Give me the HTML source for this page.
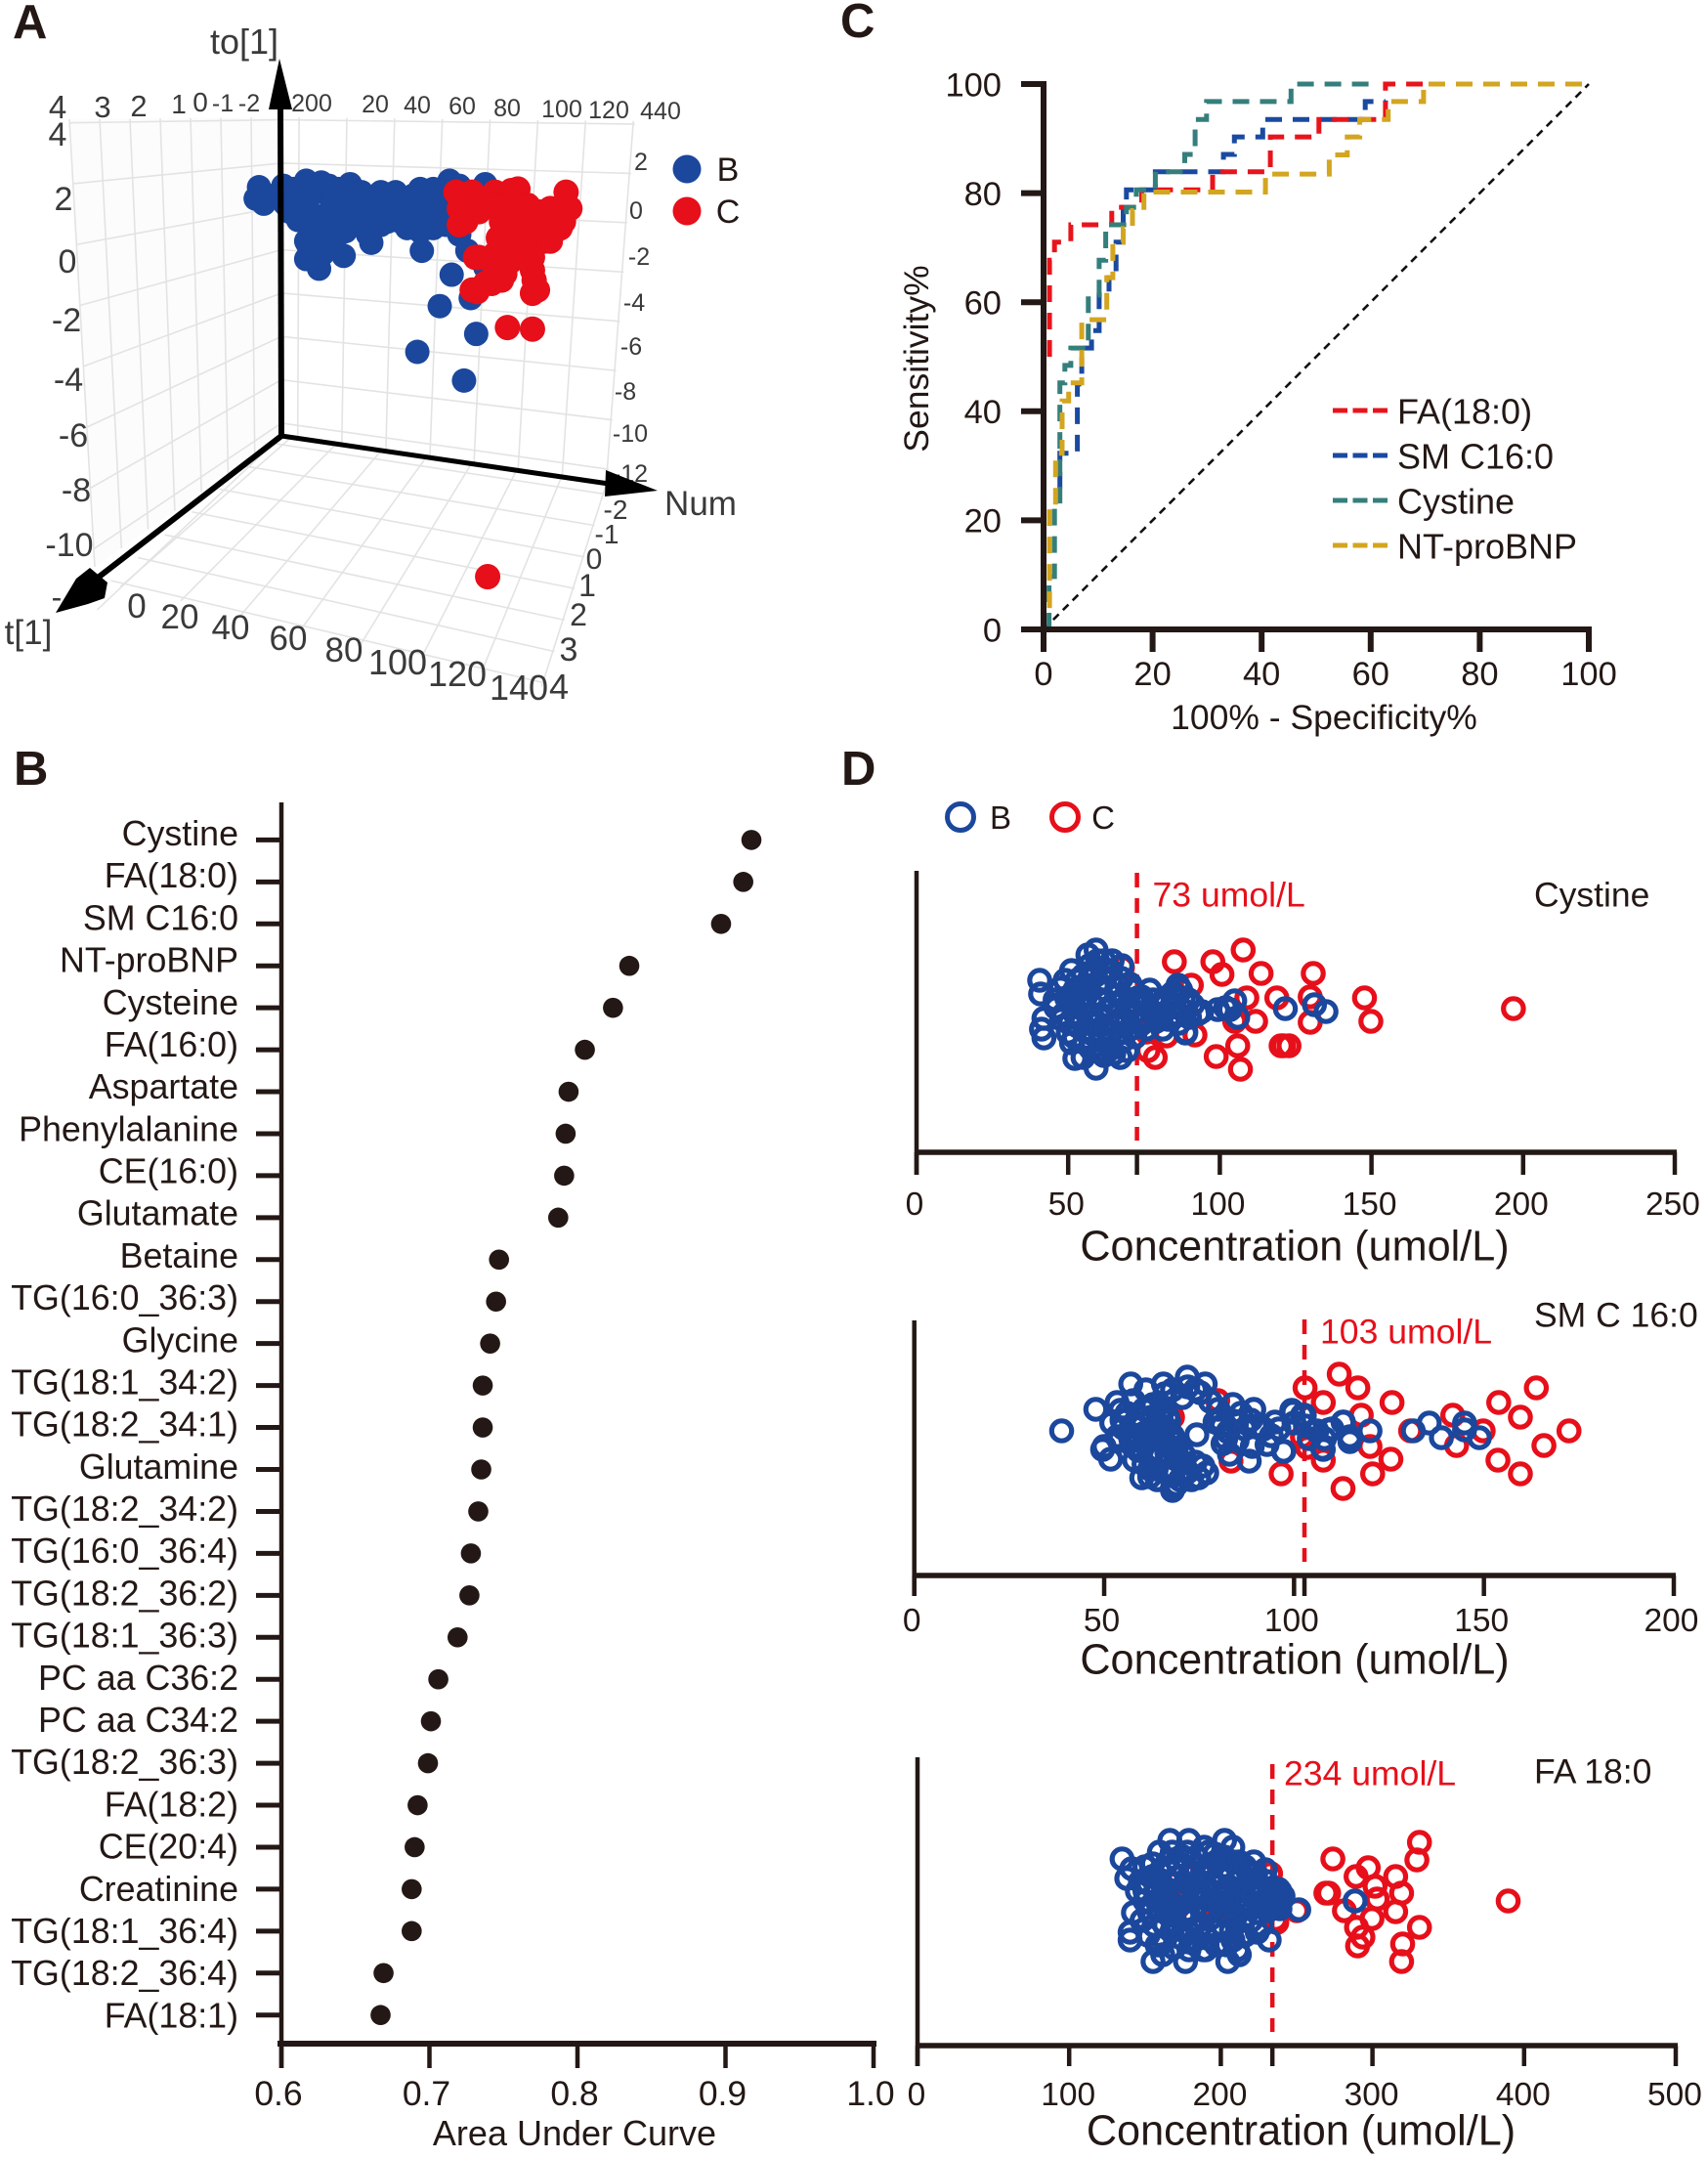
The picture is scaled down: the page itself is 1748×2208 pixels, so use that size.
<!DOCTYPE html>
<html lang="en">
<head>
<meta charset="utf-8">
<title>Figure panels A-D</title>
<style>
html,body{margin:0;padding:0;background:#fff;}
#fig{display:block;width:1748px;height:2208px;font-family:"Liberation Sans",Arial,sans-serif;fill:#231815;}
.p3d{fill:#3a3a3a;dominant-baseline:auto;}
</style>
</head>
<body>
<svg id="fig" xmlns="http://www.w3.org/2000/svg" width="1748" height="2208" viewBox="0 0 1748 2208">
  <rect x="0" y="0" width="1748" height="2208" fill="#fff"/>
  <text x="13" y="39" font-size="49" font-weight="bold">A</text>
  <text x="860" y="38" font-size="49" font-weight="bold">C</text>
  <text x="14" y="803" font-size="49" font-weight="bold">B</text>
  <text x="861" y="803" font-size="49" font-weight="bold">D</text>

  <g id="panelA"></g>
  <g class="p3d" text-anchor="middle">
    <text x="250" y="55" font-size="36">to[1]</text>
    <text x="717" y="527" font-size="35">Num</text>
    <text x="29" y="659" font-size="35">t[1]</text>
    <text x="59" y="121" font-size="33">4</text>
    <text x="105" y="120" font-size="31">3</text>
    <text x="142" y="119" font-size="31">2</text>
    <text x="183" y="116" font-size="28">1</text>
    <text x="205" y="114" font-size="28">0</text>
    <text x="228" y="114" font-size="25">-1</text>
    <text x="255" y="114" font-size="25">-2</text>
    <text x="319" y="114" font-size="25">200</text>
    <text x="384" y="115" font-size="25">20</text>
    <text x="427" y="116" font-size="25">40</text>
    <text x="473" y="117" font-size="25">60</text>
    <text x="519" y="119" font-size="25">80</text>
    <text x="575" y="120" font-size="25">100</text>
    <text x="623" y="121" font-size="25">120</text>
    <text x="676" y="122" font-size="25">440</text>
    <text x="59" y="149" font-size="34">4</text>
    <text x="65" y="215" font-size="34">2</text>
    <text x="69" y="279" font-size="34">0</text>
    <text x="68" y="339" font-size="34">-2</text>
    <text x="70" y="400" font-size="34">-4</text>
    <text x="75" y="457" font-size="34">-6</text>
    <text x="78" y="513" font-size="34">-8</text>
    <text x="71" y="569" font-size="34">-10</text>
    <text x="656" y="174" font-size="25">2</text>
    <text x="651" y="224" font-size="25">0</text>
    <text x="654" y="271" font-size="25">-2</text>
    <text x="649" y="318" font-size="25">-4</text>
    <text x="646" y="363" font-size="25">-6</text>
    <text x="640" y="409" font-size="25">-8</text>
    <text x="645" y="452" font-size="25">-10</text>
    <text x="630" y="531" font-size="28">-2</text>
    <text x="621" y="556" font-size="28">-1</text>
    <text x="608" y="582" font-size="30">0</text>
    <text x="601" y="610" font-size="32">1</text>
    <text x="592" y="640" font-size="32">2</text>
    <text x="582" y="676" font-size="34">3</text>
    <text x="572" y="715" font-size="36">4</text>
    <text x="140" y="632" font-size="35">0</text>
    <text x="184" y="643" font-size="35">20</text>
    <text x="236" y="654" font-size="35">40</text>
    <text x="295" y="665" font-size="35">60</text>
    <text x="352" y="677" font-size="35">80</text>
    <text x="407" y="690" font-size="36">100</text>
    <text x="468" y="702" font-size="36">120</text>
    <text x="531" y="716" font-size="36">140</text>
  </g>
  <g>
    <circle cx="703" cy="173" r="14.5" fill="#1b479c"/>
    <circle cx="703" cy="216" r="14.5" fill="#e60f1a"/>
    <text x="745" y="185" font-size="34" text-anchor="middle">B</text>
    <text x="745" y="228" font-size="34" text-anchor="middle">C</text>
  </g>

  <g id="panelC"></g>
  <text x="1355" y="746" font-size="35.5" text-anchor="middle">100% - Specificity%</text>
  <text transform="translate(950,367) rotate(-90)" font-size="35.5" text-anchor="middle">Sensitivity%</text>

  <g id="panelB"></g>
  <text x="588" y="2195" font-size="36" text-anchor="middle">Area Under Curve</text>

  <g>
    <circle cx="983" cy="836" r="13.5" fill="none" stroke="#1b479c" stroke-width="5"/>
    <text x="1024" y="848" font-size="33" text-anchor="middle">B</text>
    <circle cx="1090" cy="836" r="13.5" fill="none" stroke="#e60f1a" stroke-width="5"/>
    <text x="1129" y="848" font-size="33" text-anchor="middle">C</text>
  </g>
  <g id="panelD1"></g>
  <g id="panelD2"></g>
  <g id="panelD3"></g>
</svg>

<script>
/* ---------- Panel A data ---------- */
var aBlueNum=[2.9,1.5,4.9,13.1,13.8,22.7,19.9,19.3,26.8,32.2,33.6,41.1,39.1,30.9,22.7,42.5,47.3,52.7,60.2,58.2,70.5,66.4,82.8,78.7,76,97.8,86.9,73.2,65,56.8,47.3,39.1,50,38.4,23.4,28.1,29.5,22.7,28.1,35,71.2,90.3,83.7,78.7,91.7,97.8,94,69.3,88.9,48.6,15.8,84.2,43.2,67.7,76,54,29,6.3,17.2,17.2,24,24,28.1,35,36.3,36.3,43.2,50,54,62.3,62.3,70.5,70.5,76,81.4,81.4,76,45.9,25.4,33.6,22.7,29.5,86.9];
var aBlueTo=[1,0.5,0.28,1.06,0.28,1.28,0.64,-0.43,0.78,1.06,0.35,1.13,0.35,-0.21,-0.5,-0.07,0.35,0.35,0.78,-0.07,0.92,-0.07,1.28,0.64,-0.07,1.13,-1.06,-0.78,-0.78,-0.5,-0.5,-0.92,-1.42,-1.99,-1.49,-1.35,-1.91,-2.13,-2.55,-1.21,-1.77,-1.77,-2.81,-4.18,-3.83,-2.48,-5.39,-6.17,-7.42,-1.06,-0.07,-0.07,0.78,0.64,0.92,0.78,1.2,0.64,0.92,0.07,0.64,-0.07,-0.64,0.78,-0.35,0.92,-0.64,-0.21,-0.64,0.35,-0.5,0.07,-0.92,0.5,0.35,-0.64,-0.78,0.78,-2.06,-1.63,-1.35,-1.06,1.06];
var aRedNum=[88.9,89.6,108.7,97.8,106,131.7,130.6,119.7,129.2,118.3,108.7,106,93.7,101.9,104.6,94.4,100.5,117.6,117.6,118.3,107.1,117.6,125.1,111.5,111.5,122.4,95.1,98.8,85.5,92.3,101.9,111.5,86.9,86.9,104.6,115.6,125.1,133.3,130.6,119.7,111.5,103.3,108.7,101.9,97.8,92.3,106,117.6,114.2,95.1,119.7,125.1,103.3,120.9];
var aRedTo=[0.35,-0.5,0.85,0.35,0.35,0.78,0.07,-0.07,-0.78,-1.21,-0.92,-1.77,-2.06,-2.62,-3.05,-3.55,-3.19,-2.62,-3.62,-3.05,-5.11,-5.18,-0.78,-0.35,-1.63,-1.35,-0.07,-15.96,0.78,0.78,0.78,0.92,0.07,-0.64,-0.5,0.21,0.07,0.07,-0.5,-0.92,-1.06,-1.21,-2.2,-1.91,-3.19,-3.48,-2.77,-2.06,-1.49,-2.06,-3.48,-1.35,0.21,-0.5];

/* ---------- Panel C data ---------- */
var rocXTicks=[0,20,40,60,80,100];
var rocYTicks=[0,20,40,60,80,100];
var faFpr=[1.1,1.1,2,2,5,5,12.5,12.5,18,18,31,31,41.6,41.6,50.5,50.5,62.7,62.7,70];
var faSens=[50,67.7,67.7,71,71,74.2,74.2,77.4,77.4,80.6,80.6,83.9,83.9,90.3,90.3,93.5,93.5,100,100];
var smFpr=[3,3,6.2,6.2,7,7,8.8,8.8,10.2,10.2,12,12,13.3,13.3,14.6,14.6,15.2,15.2,20.5,20.5,33,33,35,35,40.2,40.2,59,59,62.7,62.7];
var smSens=[25.8,32.3,32.3,45,45,51.6,51.6,54.8,54.8,61.3,61.3,64.5,64.5,71,71,77.4,77.4,80.6,80.6,83.9,83.9,87.1,87.1,90.3,90.3,93.5,93.5,96.8,96.8,97];
var cysFpr=[1,1,2,2,3,3,3.9,3.9,5,5,8.2,8.2,10.2,10.2,11.4,11.4,15.2,15.2,17,17,20.5,20.5,25.9,25.9,27.8,27.8,29.9,29.9,45.4,45.4,60];
var cysSens=[0,9.7,9.7,22.6,22.6,45.2,45.2,48.4,48.4,51.6,51.6,61.3,61.3,67.7,67.7,74.2,74.2,77.4,77.4,80.6,80.6,83.9,83.9,87.1,87.1,93.5,93.5,96.8,96.8,100,100];
var bnpFpr=[0,0,1.1,1.1,2.2,2.2,3.4,3.4,4.6,4.6,7,7,11.6,11.6,12.7,12.7,14.6,14.6,16.3,16.3,18.4,18.4,40.7,40.7,52.4,52.4,55.7,55.7,58,58,63.2,63.2,69.7,69.7,100];
var bnpSens=[0,3.2,3.2,22.6,22.6,32.3,32.3,41.9,41.9,45.2,45.2,56.8,56.8,64.5,64.5,71,71,73.5,73.5,76.8,76.8,80.2,80.2,83.5,83.5,87,87,90.3,90.3,93.5,93.5,96.8,96.8,100,100];
var rocSeriesNames=['FA(18:0)','SM C16:0','Cystine','NT-proBNP'];

/* ---------- Panel B data ---------- */
var aucCategories=['Cystine','FA(18:0)','SM C16:0','NT-proBNP','Cysteine','FA(16:0)','Aspartate','Phenylalanine','CE(16:0)','Glutamate','Betaine','TG(16:0_36:3)','Glycine','TG(18:1_34:2)','TG(18:2_34:1)','Glutamine','TG(18:2_34:2)','TG(16:0_36:4)','TG(18:2_36:2)','TG(18:1_36:3)','PC aa C36:2','PC aa C34:2','TG(18:2_36:3)','FA(18:2)','CE(20:4)','Creatinine','TG(18:1_36:4)','TG(18:2_36:4)','FA(18:1)'];
var aucValues=[0.9175,0.912,0.897,0.835,0.824,0.805,0.794,0.792,0.791,0.787,0.747,0.745,0.741,0.736,0.736,0.735,0.733,0.728,0.727,0.719,0.706,0.701,0.699,0.692,0.690,0.688,0.688,0.669,0.667];
var aucTicks=[0.6,0.7,0.8,0.9,1.0];
var aucTickLabels=['0.6','0.7','0.8','0.9','1.0'];

/* ---------- Panel D data: value = concentration, spread = swarm offset (arbitrary units) ---------- */
var cystineTicks=[0,50,100,150,200,250];
var cystineCut=73;
var cystineRedValues=[85,97.7,100.7,107.7,113.6,130.8,90.6,108.9,118.8,129.8,147.7,196.8,149.8,129.8,111.8,104.9,105.9,121,122.8,120.2,98.8,106.8,78.7,76.3,82.4,91.8,75.8,67.9];
var cystineRedSpread=[0.49,0.49,0.36,0.61,0.37,0.37,0.25,0.12,0.12,0.13,0.12,0.01,-0.12,-0.13,-0.12,-0.12,-0.37,-0.37,-0.37,-0.37,-0.48,-0.61,-0.49,-0.42,-0.27,-0.26,-0.23,0.43];
var cystineBlueValues=[40.6,40.9,42,41.2,42,51.1,49,56.5,59.2,59.7,67.7,64,76.9,74.2,86.5,85.5,93,88.7,81.2,75.8,52.2,54.9,59.2,67.2,69.4,51.1,45.7,50,54.3,57.5,62.9,66.1,70.4,72.6,69.4,65.1,55.4,52.2,47.9,53.2,50,57.5,60.8,64,67.2,70.4,57.5,61.8,64,55.4,59.7,67.2,73.6,77.9,81.2,84.4,87.6,89.7,82.2,86.5,65.1,54.3,59.7,61.8,58.6,52.2,135,131.2,121.6,105.9,104.9,101.9,99.3,103.3,94,86.2,84.5,87.1,88.8,
46,47.5,48.5,49.5,50.5,51.5,52,53,53.5,54,55,55.5,56,56.5,57,57.5,58,58.5,59,60,60.5,61,62,62.5,63,63.5,64.5,65,66,66.5,67.5,68,68.5,69,70,71,71.5,72,73,74,75,76,78,79,80,82,83,85,86,88,90,91];
var cystineBlueSpread=[0.3,0.16,-0.09,-0.2,-0.29,0.4,0.3,0.56,0.61,0.5,0.45,0.4,0.2,0.13,0.23,0.13,-0.04,-0.24,-0.2,-0.2,-0.5,-0.49,-0.6,-0.49,-0.42,-0.34,0.1,0.1,0.23,0.33,0.4,0.26,0.26,0.06,0.03,0.06,0.03,-0.04,-0.1,-0.17,-0.24,-0.24,-0.3,-0.24,-0.24,-0.2,-0.4,-0.47,-0.4,-0.34,-0.14,-0.1,-0.1,-0.04,-0.04,-0.07,0,0.1,0.06,-0.14,-0.14,0.13,0.26,0.5,0.4,0.2,-0.02,0.05,0.01,-0.08,0.09,0.02,0,0,-0.02,0.25,0.17,0.2,-0.23,
0.02,0.22,-0.05,0.12,-0.14,0.05,-0.28,0.3,0.08,-0.1,0.35,-0.22,0.15,-0.05,0.45,-0.32,0.05,-0.15,0.35,-0.42,-0.05,0.1,0.3,-0.2,-0.35,0.02,0.5,-0.45,0.15,-0.05,0.32,-0.32,0.12,-0.15,0.05,0.2,-0.05,-0.28,0.12,-0.15,0.05,-0.08,0.1,-0.12,0.05,0.12,-0.1,0.03,-0.05,0.12,-0.08,0.05];

var smTicks=[0,50,100,150,200];
var smCut=103;
var smRedValues=[111.9,116.8,102.9,107.7,125.8,117.7,163.8,153.9,159.6,141.8,172.4,149.8,130.7,165.8,142.8,120,125.5,107.7,153.7,159.6,120.7,96.6,112.9,83.4,79.9,68,103.5,102.2];
var smRedSpread=[0.58,0.44,0.44,0.29,0.29,0.16,0.44,0.29,0.14,0.16,0,0,0,-0.15,-0.15,-0.16,-0.29,-0.3,-0.3,-0.44,-0.44,-0.44,-0.59,-0.31,0.31,0.14,-0.17,-0.06];
var smBlueValues=[47.8,57,53.4,61,65.6,71.9,76.6,75.3,70.6,57.7,54.7,53.4,49.6,51.7,50,57.7,59.9,59.9,63.7,68,68,74.9,77,70.6,64.6,74.4,61.6,63.7,65.4,62.9,67.2,64.6,67.2,68.9,60.3,59.4,62.9,56.9,54.3,62,71.4,80,80.4,83.9,79.2,82.6,81.3,83,88.2,89,89.4,88.6,92.9,95,97.2,99.7,102.7,104,107.5,110,113,114.7,114.7,38.8,120,114.7,131.4,135.6,138.8,144.9,144.9,148.8,112.9,109.1,107.7,97.3,102.2,99.4,63.2,65.9,64.6,63.9,67.4,66.7,61.8,68.8,
52,54,55,56,57,58,59,60,60.5,61,62,62.5,63,64,64.5,65,65.5,66,66.5,67,68,69,58,60.5,62,64,66,68,70,72,74,76,71,73,69,72,68,74,66,78,81,82,84,85,86,87,90,92,94,96,100,103,106,108];
var smBlueSpread=[0.22,0.48,0.29,0.42,0.48,0.55,0.48,0.39,0.34,0.31,0.11,-0.06,-0.19,-0.29,-0.16,-0.16,-0.19,-0.48,-0.39,-0.61,-0.58,-0.48,-0.43,-0.33,-0.26,-0.04,0.21,0.07,0.21,-0.06,-0.03,-0.09,-0.16,-0.29,-0.03,0.14,0.27,-0.03,0.21,-0.39,-0.39,0.22,0.11,0.27,0.09,-0.01,-0.13,-0.24,-0.31,-0.16,0.22,0.11,-0.14,0.09,-0.21,0.19,0.16,-0.08,-0.18,0.02,0.09,-0.08,-0.11,0,0,-0.06,0,0.08,-0.07,0.08,0.01,-0.07,0.09,0.01,-0.19,-0.21,0.16,0.21,0.04,0.04,0.18,-0.09,-0.02,0.14,-0.09,-0.12,
0.08,-0.1,0.03,0.18,-0.08,0.08,-0.2,0.08,0.22,-0.12,0.02,0.14,-0.2,0.08,-0.02,0.14,-0.12,0.03,-0.22,0.1,-0.05,-0.18,-0.3,-0.34,-0.47,-0.5,-0.42,-0.46,-0.5,-0.42,-0.32,-0.36,-0.25,-0.5,-0.55,0.45,0.42,0.42,0.38,0.3,0.05,-0.08,0.1,-0.1,0.18,0.02,0.05,0.02,-0.05,0.02,0.08,0.05,0,-0.08];

var faTicks=[0,100,200,300,400,500];
var faCut=234;
var faRedValues=[331,329.3,273.9,297.2,289.2,315.3,301.7,319.2,269.3,271.1,303.1,281.5,315.3,389.5,299.7,289.5,331,293.7,290.2,319.9,319.2,250.2,236.2,232.8,170.3,178.9,171.4,198.2,217.5,236.9];
var faRedSpread=[0.6,0.42,0.43,0.34,0.25,0.25,0.15,0.08,0.08,0.08,0.02,-0.1,-0.11,0,-0.18,-0.27,-0.27,-0.37,-0.46,-0.44,-0.62,-0.1,-0.19,0.28,0.18,0.25,-0.07,-0.1,-0.03,-0.22];
var faBlueValues=[134.9,141.3,138,159.5,166.4,178.9,202.5,207.9,221.8,229.3,239,236.8,251.4,231.9,224,212.2,204.6,176.7,155.3,161.7,140.2,140.2,142.4,188.5,150,155,160,165,165,170,172,175,178,185,188,190,192,195,198,200,203,205,208,210,213,215,218,222,225,228,232,235,237,240,148,152,160,168,175,183,190,195,150,158,182,197,212,216,205,180,145,170,163,187,288.5,
147,150,152,153,155,156,157,158,160,161,162,163,165,166,167,168,169,170,172,173,174,176,177,178,179,180,181,183,184,185,186,188,189,190,191,192,193,194,196,197,198,199,200,201,202,203,204,205,206,207,208,209,210,211,212,213,214,215,216,217,219,220,221,223,224,226,227,228,230,231,233,234,236,238,239,241];
var faBlueSpread=[0.43,0.33,0.23,0.5,0.62,0.62,0.62,0.55,0.4,0.32,0.1,0,-0.09,-0.4,-0.32,-0.55,-0.62,-0.62,-0.62,-0.55,-0.4,-0.32,-0.12,-0.5,0.1,0.25,-0.1,0.2,0.4,-0.05,0.25,0.45,-0.3,0.1,0.3,-0.1,0.5,0.2,-0.3,0.05,0.35,-0.15,-0.4,0.2,0.05,-0.2,0.3,0.15,-0.05,0.1,0.05,0.12,-0.05,0.02,-0.2,-0.35,-0.45,-0.3,-0.15,-0.4,-0.5,-0.1,0.35,0,0.35,0.4,0.4,-0.35,0.15,0.15,0.1,0.1,-0.25,-0.25,0,
0.2,0,0.18,-0.12,0.38,-0.25,0.1,-0.45,0.3,-0.02,0.15,-0.4,0.03,-0.15,0.3,0.5,-0.48,-0.22,0.38,0.02,-0.38,0.12,-0.1,0.5,-0.5,0.3,-0.2,0.02,0.45,-0.3,0.2,-0.08,0.55,0.1,-0.38,0.35,-0.18,0.02,0.48,-0.45,0.15,-0.05,0.28,-0.25,0.45,0.1,-0.45,-0.02,0.25,-0.3,0.4,0.08,-0.15,-0.5,0.28,-0.08,-0.35,0.12,0.35,0,0.22,-0.2,0.05,0.28,-0.12,0.15,-0.25,0,0.2,-0.1,0.12,-0.03,0.06,0.12,-0.08,0.05];

/* ---------- helpers ---------- */
var SVGNS='http://www.w3.org/2000/svg';
var INK='#231815', BLUE='#1b479c', RED='#e60f1a';
function mk(tag,attrs,parent,txt){
  var el=document.createElementNS(SVGNS,tag);
  for(var k in attrs){el.setAttribute(k,attrs[k]);}
  if(txt!==undefined){el.textContent=txt;}
  parent.appendChild(el);
  return el;
}
function lerp(a,b,t){return a+(b-a)*t;}

/* ---------- Panel A ---------- */
(function(){
  var g=document.getElementById('panelA');
  var el;
  var wallGrid='#e3e3e3';
  el=mk('polygon',{points:'71,122 288,120 288,446 97,580',fill:'#fcfcfc'},g);
  
  
  function wallPt(c,u,v){
    return [lerp(lerp(c[0][0],c[1][0],u),lerp(c[3][0],c[2][0],u),v),
            lerp(lerp(c[0][1],c[1][1],u),lerp(c[3][1],c[2][1],u),v)];
  }
  var leftWall=[[71,122],[288,120],[288,446],[97,580]];
  var rightWall=[[288,120],[650,124],[622,495],[288,446]];
  var floorQ=[[288,446],[622,495],[556,703],[110,597]];
  function gridLine(c,u1,v1,u2,v2,name){
    var a=wallPt(c,u1,v1),b=wallPt(c,u2,v2);
    var ln=mk('line',{x1:a[0],y1:a[1],x2:b[0],y2:b[1],stroke:wallGrid,'stroke-width':1.6},g);
    
    
  }
  var i,v;
  for(i=0;i<=8;i++){
    v=(0.008+0.136*i);
    gridLine(leftWall,0,v,1,Math.min(v,1),'left-wall-gridline');
    gridLine(rightWall,0,Math.min(v,1),1,Math.min(v,1),'right-wall-gridline');
  }
  for(i=0;i<=7;i++){
    gridLine(leftWall,i/7,0,i/7,1,'left-wall-gridline');
  }
  for(i=0;i<=7;i++){
    gridLine(rightWall,0.05+i*0.135,0,0.05+i*0.135,1,'right-wall-gridline');
    gridLine(floorQ,0.03+i*0.138,0,0.03+i*0.138,1,'floor-gridline');
  }
  for(i=0;i<=6;i++){
    gridLine(floorQ,0,0.05+i*0.155,1,0.05+i*0.155,'floor-gridline');
  }
  function xA(n){return 258+2.44*n;}
  function yA(t){return 215-23.5*t;}
  for(i=0;i<aBlueNum.length;i++){
    el=mk('circle',{cx:xA(aBlueNum[i]),cy:yA(aBlueTo[i]),r:12.5,fill:BLUE},g);
    
    
  }
  for(i=0;i<aRedNum.length;i++){
    el=mk('circle',{cx:xA(aRedNum[i]),cy:yA(aRedTo[i]),r:13,fill:RED},g);
    
    
  }
  el=mk('text',{x:645,y:493,'font-size':25,'text-anchor':'middle',fill:'#3a3a3a'},g,'-12');
  
  
  el=mk('text',{x:58,y:622,'font-size':32,'text-anchor':'middle',fill:'#3a3a3a'},g,'-');
  
  
  el=mk('line',{x1:288,y1:446,x2:287,y2:100,stroke:'#000','stroke-width':6},g);
  
  
  el=mk('polygon',{points:'286,60 275,112 299,112',fill:'#000'},g);
  
  
  el=mk('line',{x1:288,y1:446,x2:630,y2:496,stroke:'#000','stroke-width':5},g);
  
  
  el=mk('polygon',{points:'673,502 620,481 619,508',fill:'#000'},g);
  
  
  el=mk('line',{x1:288,y1:446,x2:95,y2:595,stroke:'#000','stroke-width':6},g);
  
  
  el=mk('polygon',{points:'57,627 78,592 92,581 110,596 107,612 90,618',fill:'#000'},g);
  
  
})();

/* ---------- Panel C ---------- */
(function(){
  var g=document.getElementById('panelC');
  var el,i;
  function x(v){return 1068+5.58*v;}
  function y(v){return 644-5.58*v;}
  el=mk('line',{x1:x(0),y1:y(0),x2:x(100),y2:y(100),stroke:'#111','stroke-width':2.6,'stroke-dasharray':'8 6'},g);
  
  
  function series(xs,ys,color,name){
    var pts=[];
    for(var j=0;j<xs.length;j++){pts.push(x(xs[j]).toFixed(1)+','+y(ys[j]).toFixed(1));}
    var p=mk('polyline',{points:pts.join(' '),fill:'none',stroke:color,'stroke-width':5,'stroke-dasharray':'17 11'},g);
    
    
  }
  series(smFpr,smSens,'#1a4aa0','roc-curve-sm-c16');
  series(faFpr,faSens,'#e8141c','roc-curve-fa-18');
  series(cysFpr,cysSens,'#347f7c','roc-curve-cystine');
  series(bnpFpr,bnpSens,'#d3a520','roc-curve-nt-probnp');
  el=mk('line',{x1:x(0),y1:y(100)-3,x2:x(0),y2:y(0)+3,stroke:INK,'stroke-width':6},g);
  
  
  el=mk('line',{x1:1045,y1:y(0),x2:x(100)+3,y2:y(0),stroke:INK,'stroke-width':6},g);
  
  
  for(i=0;i<rocYTicks.length;i++){
    el=mk('line',{x1:1045,y1:y(rocYTicks[i]),x2:x(0),y2:y(rocYTicks[i]),stroke:INK,'stroke-width':6},g);
    
    
    el=mk('text',{x:1025,y:y(rocYTicks[i])+12.3,'font-size':34.5,'text-anchor':'end'},g,String(rocYTicks[i]));
    
    
  }
  for(i=0;i<rocXTicks.length;i++){
    el=mk('line',{x1:x(rocXTicks[i]),y1:y(0),x2:x(rocXTicks[i]),y2:667,stroke:INK,'stroke-width':6},g);
    
    
    el=mk('text',{x:x(rocXTicks[i]),y:701,'font-size':34.5,'text-anchor':'middle'},g,String(rocXTicks[i]));
    
    
  }
  var cols=['#e8141c','#1a4aa0','#347f7c','#d3a520'];
  var ly=[420,466,512,558];
  for(i=0;i<4;i++){
    el=mk('line',{x1:1364,y1:ly[i],x2:1420,y2:ly[i],stroke:cols[i],'stroke-width':5,'stroke-dasharray':'15 5.5'},g);
    
    
    el=mk('text',{x:1430,y:ly[i]+13.5,'font-size':36},g,rocSeriesNames[i]);
    
    
  }
})();

/* ---------- Panel B ---------- */
(function(){
  var g=document.getElementById('panelB');
  var el,i;
  function x(v){return 288+(v-0.6)/0.4*606;}
  function y(i){return 859.4+42.94*i;}
  el=mk('line',{x1:288,y1:821,x2:288,y2:2116,stroke:INK,'stroke-width':4.5},g);
  
  
  el=mk('line',{x1:284,y1:2091,x2:897,y2:2091,stroke:INK,'stroke-width':6},g);
  
  
  for(i=0;i<aucCategories.length;i++){
    el=mk('line',{x1:262,y1:y(i),x2:288,y2:y(i),stroke:INK,'stroke-width':5},g);
    
    
    el=mk('text',{x:244,y:y(i)+5.6+7*i/28,'font-size':35.8,'text-anchor':'end'},g,aucCategories[i]);
    
    
    el=mk('circle',{cx:x(aucValues[i]),cy:y(i),r:10.3,fill:INK},g);
    
    
  }
  for(i=0;i<aucTicks.length;i++){
    el=mk('line',{x1:x(aucTicks[i]),y1:2091,x2:x(aucTicks[i]),y2:2116,stroke:INK,'stroke-width':4.5},g);
    
    
    el=mk('text',{x:x(aucTicks[i])-3,y:2154,'font-size':35.5,'text-anchor':'middle'},g,aucTickLabels[i]);
    
    
  }
})();

/* ---------- Panel D ---------- */
function swarm(cfg){
  var g=document.getElementById(cfg.id);
  var el,i;
  var maxV=cfg.ticks[cfg.ticks.length-1];
  function x(v){return cfg.x0+v/maxV*(cfg.x1-cfg.x0);}
  function y(o){return cfg.cy-o*100;}
  el=mk('line',{x1:cfg.x0,y1:cfg.top,x2:cfg.x0,y2:cfg.tickEnd,stroke:INK,'stroke-width':4.5},g);
  
  
  el=mk('line',{x1:cfg.x0-2,y1:cfg.axisY,x2:cfg.x1+2,y2:cfg.axisY,stroke:INK,'stroke-width':5.5},g);
  
  
  for(i=0;i<cfg.ticks.length;i++){
    el=mk('line',{x1:x(cfg.ticks[i]),y1:cfg.axisY,x2:x(cfg.ticks[i]),y2:cfg.tickEnd,stroke:INK,'stroke-width':4.5},g);
    
    
    el=mk('text',{x:x(cfg.ticks[i])-cfg.labelShift,y:cfg.labelY+12,'font-size':33.5,'text-anchor':'middle'},g,String(cfg.ticks[i]));
    
    
  }
  el=mk('line',{x1:x(cfg.cut)-cfg.cutShift,y1:cfg.axisY,x2:x(cfg.cut)-cfg.cutShift,y2:cfg.tickEnd,stroke:INK,'stroke-width':4.5},g);
  
  
  el=mk('line',{x1:x(cfg.cut)-cfg.cutShift,y1:cfg.dashTop,x2:x(cfg.cut)-cfg.cutShift,y2:cfg.dashEnd,stroke:RED,'stroke-width':4.5,'stroke-dasharray':'15 11'},g);
  
  
  for(i=0;i<cfg.rv.length;i++){
    el=mk('circle',{cx:x(cfg.rv[i]),cy:y(cfg.rs[i]),r:10.2,fill:'none',stroke:RED,'stroke-width':5.2},g);
    
    
  }
  for(i=0;i<cfg.bv.length;i++){
    el=mk('circle',{cx:x(cfg.bv[i]),cy:y(cfg.bs[i]),r:10.2,fill:'none',stroke:BLUE,'stroke-width':5.2},g);
    
    
  }
  el=mk('text',{x:cfg.cutTextX,y:cfg.cutTextY+12.5,'font-size':35.6,fill:RED},g,cfg.cut+' umol/L');
  
  
  el=mk('text',{x:1570,y:cfg.nameY+12.5,'font-size':35.5},g,cfg.name);
  
  
  el=mk('text',{x:cfg.titleX,y:cfg.titleY+14.5,'font-size':43.2,'text-anchor':'middle'},g,'Concentration (umol/L)');
  
  
}
swarm({id:'panelD1',ticks:cystineTicks,cut:cystineCut,rv:cystineRedValues,rs:cystineRedSpread,bv:cystineBlueValues,bs:cystineBlueSpread,
  x0:938,x1:1714,cy:1033,top:891,axisY:1179,tickEnd:1202,dashTop:893,dashEnd:1167,labelY:1231,labelShift:2,cutShift:1,
  cutTextX:1179.5,cutTextY:915,name:'Cystine',nameY:915,titleX:1325,titleY:1275});
swarm({id:'panelD2',ticks:smTicks,cut:smCut,rv:smRedValues,rs:smRedSpread,bv:smBlueValues,bs:smBlueSpread,
  x0:935.7,x1:1713,cy:1464,top:1351,axisY:1612,tickEnd:1633,dashTop:1350,dashEnd:1598,labelY:1657,labelShift:2.5,cutShift:1,
  cutTextX:1351,cutTextY:1362,name:'SM C 16:0',nameY:1345,titleX:1325,titleY:1698});
swarm({id:'panelD3',ticks:faTicks,cut:faCut,rv:faRedValues,rs:faRedSpread,bv:faBlueValues,bs:faBlueSpread,
  x0:939,x1:1715,cy:1945,top:1798,axisY:2093,tickEnd:2114,dashTop:1805,dashEnd:2079,labelY:2142,labelShift:1,cutShift:0,
  cutTextX:1314,cutTextY:1814,name:'FA 18:0',nameY:1812,titleX:1331.5,titleY:2180});
</script>
</body>
</html>
